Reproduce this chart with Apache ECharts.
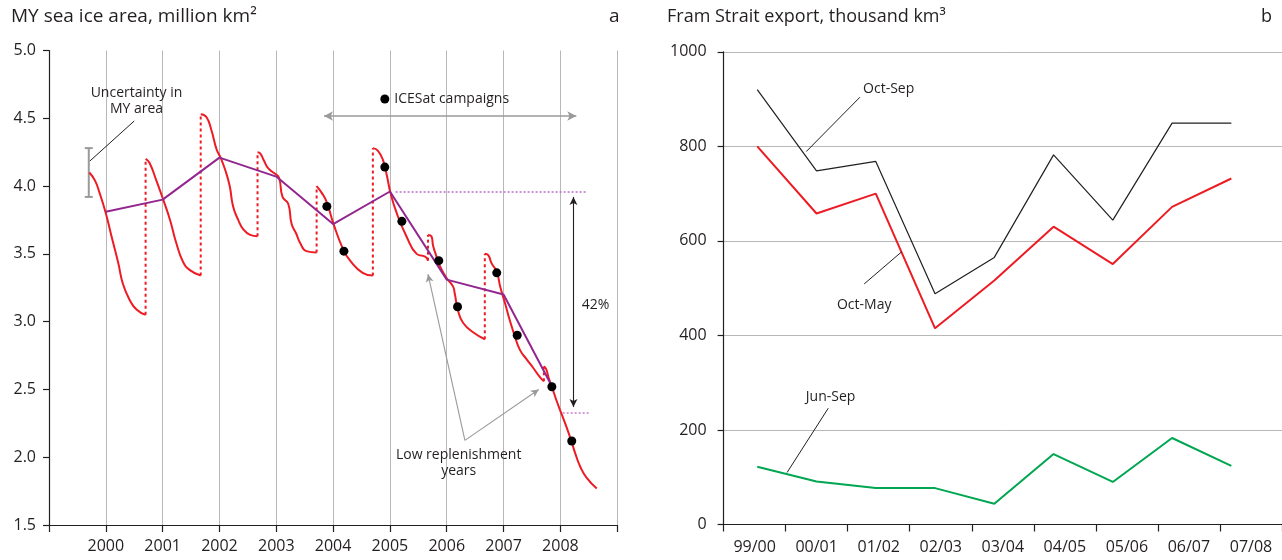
<!DOCTYPE html>
<html>
<head>
<meta charset="utf-8">
<script src="https://cdn.jsdelivr.net/npm/echarts@6/dist/echarts.min.js"></script>
<style>
  html, body { margin: 0; padding: 0; background: #fff; }
  #chart { width: 1282px; height: 560px; }
</style>
</head>
<body>
<div id="chart"></div>
<script>
// ---------- Panel a: multiyear (MY) sea ice area, million km² ----------
const yearLabels = [2000, 2001, 2002, 2003, 2004, 2005, 2006, 2007, 2008];

// Seasonal MY area curves: [decimal year, area]; each season starts at the autumn replenishment
const season1999 = [[1999.71,4.10],[1999.81,4.04],[1999.89,3.95],[2000.00,3.80],[2000.10,3.63],[2000.22,3.43],[2000.30,3.28],[2000.42,3.16],[2000.54,3.09],[2000.70,3.05]];
const season2000 = [[2000.70,4.20],[2000.77,4.17],[2000.89,4.04],[2001.01,3.90],[2001.13,3.75],[2001.24,3.58],[2001.36,3.44],[2001.48,3.38],[2001.67,3.34]];
const season2001 = [[2001.67,4.53],[2001.77,4.51],[2001.86,4.41],[2001.95,4.27],[2002.02,4.21],[2002.10,4.12],[2002.18,4.00],[2002.24,3.85],[2002.33,3.75],[2002.42,3.68],[2002.54,3.64],[2002.67,3.63]];
const season2002 = [[2002.67,4.25],[2002.72,4.24],[2002.78,4.19],[2002.86,4.13],[2002.98,4.09],[2003.05,4.06],[2003.11,3.92],[2003.21,3.87],[2003.27,3.72],[2003.35,3.65],[2003.42,3.58],[2003.53,3.52],[2003.71,3.51]];
const season2003 = [[2003.71,4.00],[2003.80,3.95],[2003.89,3.88],[2004.00,3.73],[2004.18,3.53],[2004.30,3.45],[2004.52,3.36],[2004.70,3.34]];
const season2004 = [[2004.70,4.28],[2004.79,4.26],[2004.88,4.19],[2004.95,4.07],[2005.01,3.95],[2005.12,3.80],[2005.29,3.63],[2005.47,3.50],[2005.62,3.48],[2005.67,3.45]];
const season2005 = [[2005.67,3.64],[2005.73,3.63],[2005.76,3.56],[2005.82,3.48],[2005.88,3.41],[2006.00,3.32],[2006.11,3.26],[2006.14,3.21],[2006.20,3.08],[2006.29,2.99],[2006.47,2.92],[2006.67,2.87]];
const season2006 = [[2006.67,3.50],[2006.73,3.49],[2006.79,3.43],[2006.88,3.37],[2006.94,3.26],[2007.03,3.13],[2007.11,3.01],[2007.20,2.89],[2007.29,2.79],[2007.41,2.72],[2007.52,2.66],[2007.64,2.59],[2007.71,2.56]];
const season2007 = [[2007.71,2.67],[2007.75,2.65],[2007.79,2.59],[2007.85,2.52],[2007.93,2.42],[2008.02,2.32],[2008.11,2.22],[2008.20,2.11],[2008.26,2.03],[2008.35,1.93],[2008.46,1.85],[2008.64,1.77]];
const mySeasons = [season1999, season2000, season2001, season2002, season2003, season2004, season2005, season2006, season2007];

// Annual MY area at the start of each year
const annualArea = [[2000,3.81],[2001,3.90],[2002,4.21],[2003,4.07],[2004,3.72],[2005,3.96],[2006,3.31],[2007,3.20],[2007.83,2.54]];

// ICESat campaign estimates
const icesatPoints = [[2003.89,3.85],[2004.19,3.52],[2004.91,4.14],[2005.21,3.74],[2005.86,3.45],[2006.19,3.11],[2006.88,3.36],[2007.24,2.90],[2007.85,2.52],[2008.20,2.12]];

// Uncertainty bar: [year, low, high]
const uncertaintyBar = [1999.70, 3.92, 4.28];

// Decline from 2005 to 2008
const level2005 = 3.96;
const level2008 = 2.33;

// ---------- Panel b: Fram Strait export, thousand km³ ----------
const exportYears = ['99/00', '00/01', '01/02', '02/03', '03/04', '04/05', '05/06', '06/07', '07/08'];
const octSep = [920, 748, 768, 488, 565, 782, 644, 849, 849];
const octMay = [800, 658, 700, 415, 516, 630, 551, 672, 732];
const junSep = [122, 91, 77, 77, 44, 149, 90, 183, 124];
const meanExport = 700;

const FONT = '"Open Sans", "Noto Sans", sans-serif';
const INK = '#231f20';
const RED = '#ed1c24';
const PURPLE = '#92278f';
const GREEN = '#00a651';
const GRAY = '#9a9a9a';
const GRID = '#b8b8b8';

const txt = (size) => ({ fontFamily: FONT, fontSize: size, color: INK });

// Replenishment jumps join the end of one season to the start of the next
const jumps = [];
for (let i = 0; i < mySeasons.length - 1; i++) {
  const a = mySeasons[i][mySeasons[i].length - 1];
  const b = mySeasons[i + 1][0];
  jumps.push([a, b]);
}

const series = [];

mySeasons.forEach((s) => {
  series.push({
    type: 'line', xAxisIndex: 0, yAxisIndex: 0, data: s,
    smooth: 0.5, showSymbol: false, silent: true,
    lineStyle: { color: RED, width: 2 }, z: 3
  });
});

jumps.forEach((j) => {
  series.push({
    type: 'line', xAxisIndex: 0, yAxisIndex: 0, data: j,
    showSymbol: false, silent: true,
    lineStyle: { color: RED, width: 2, type: [3, 3] }, z: 3
  });
});

// Annual area and annotations of panel a
const arrow = (from, to, color, width, startSym, endSym, size) => ([
  { coord: from, symbol: startSym, symbolSize: size },
  { coord: to, symbol: endSym, symbolSize: size, lineStyle: { color: color, width: width, type: 'solid' } }
]);

series.push({
  type: 'line', xAxisIndex: 0, yAxisIndex: 0, data: annualArea,
  showSymbol: false, silent: true,
  lineStyle: { color: PURPLE, width: 2 }, z: 4,
  markLine: {
    silent: true, animation: false, label: { show: false },
    data: [
      arrow([2003.84, 4.517], [2008.28, 4.517], GRAY, 1.5, 'arrow', 'arrow', [7, 9]),
      arrow([2008.23, 2.37], [2008.23, 3.92], INK, 1.1, 'arrow', 'arrow', [6, 8]),
      arrow([2006.32, 2.124], [2005.67, 3.35], GRAY, 1.1, 'none', 'arrow', [6, 8]),
      arrow([2006.32, 2.124], [2007.62, 2.50], GRAY, 1.1, 'none', 'arrow', [6, 8]),
      arrow([1999.72, 4.185], [2000.50, 4.48], INK, 1, 'none', 'none', 1),
      [
        { coord: [2005.10, level2005], symbol: 'none' },
        { coord: [2008.48, level2005], symbol: 'none', lineStyle: { color: '#b56fc4', width: 1.5, type: [2, 2] } }
      ],
      [
        { coord: [2008.04, level2008], symbol: 'none' },
        { coord: [2008.51, level2008], symbol: 'none', lineStyle: { color: '#c77ad2', width: 1.5, type: [2, 2] } }
      ]
    ]
  }
});

series.push({
  type: 'scatter', xAxisIndex: 0, yAxisIndex: 0, data: icesatPoints,
  symbolSize: 9, itemStyle: { color: '#000', opacity: 1 }, silent: true, z: 5
});

series.push({
  type: 'custom', xAxisIndex: 0, yAxisIndex: 0, data: [uncertaintyBar], silent: true,
  renderItem: (params, api) => {
    const lo = api.coord([api.value(0), api.value(1)]);
    const hi = api.coord([api.value(0), api.value(2)]);
    const w = 4;
    const st = { stroke: GRAY, lineWidth: 2 };
    return {
      type: 'group', children: [
        { type: 'line', shape: { x1: lo[0], y1: lo[1], x2: hi[0], y2: hi[1] }, style: st },
        { type: 'line', shape: { x1: lo[0] - w, y1: lo[1], x2: lo[0] + w, y2: lo[1] }, style: st },
        { type: 'line', shape: { x1: hi[0] - w, y1: hi[1], x2: hi[0] + w, y2: hi[1] }, style: st }
      ]
    };
  }
});

// Text annotations, drawn as centred text at a data position
const annotationsA = [
  { at: [2000.54, 4.625], text: 'Uncertainty in\nMY area' },
  { at: [2006.21, 1.96], text: 'Low replenishment\nyears' },
  { at: [2008.62, 3.123], text: '42%' }
];
const annotationsB = [
  { at: [2.218, 921], text: 'Oct-Sep' },
  { at: [1.805, 464], text: 'Oct-May' },
  { at: [1.238, 270], text: 'Jun-Sep' }
];
const textSeries = (items, xi, yi) => ({
  type: 'custom', xAxisIndex: xi, yAxisIndex: yi, silent: true, z: 6,
  data: items.map((d) => d.at),
  renderItem: (params, api) => {
    const p = api.coord([api.value(0), api.value(1)]);
    return {
      type: 'text', x: p[0], y: p[1],
      style: {
        text: items[params.dataIndex].text, fill: INK,
        font: '14px ' + FONT, align: 'center', verticalAlign: 'middle', lineHeight: 16
      }
    };
  }
});
series.push(textSeries(annotationsA, 0, 0));

series.push({
  type: 'scatter', xAxisIndex: 0, yAxisIndex: 0, symbolSize: 9, silent: true, z: 6,
  itemStyle: { color: '#000', opacity: 1 },
  data: [{ value: [2004.91, 4.642], label: { show: true, position: 'right', distance: 5, formatter: 'ICESat campaigns', fontFamily: FONT, fontSize: 14, color: INK } }]
});

// Panel b lines on a hidden index axis
const indexed = (arr) => arr.map((v, i) => [i, v]);

series.push({
  type: 'line', xAxisIndex: 2, yAxisIndex: 1, data: indexed(octSep),
  showSymbol: false, silent: true, lineStyle: { color: INK, width: 1.2 }, z: 3,
  markLine: {
    silent: true, animation: false, label: { show: false }, symbol: 'none',
    data: [
      [{ yAxis: meanExport, lineStyle: { color: '#333', width: 2, type: [18, 12] } }, { yAxis: meanExport }]
    ]
  }
});
series.push({
  type: 'line', xAxisIndex: 2, yAxisIndex: 1, data: indexed(octMay),
  showSymbol: false, silent: true, lineStyle: { color: RED, width: 2 }, z: 3
});
series.push({
  type: 'line', xAxisIndex: 2, yAxisIndex: 1, data: indexed(junSep),
  showSymbol: false, silent: true, lineStyle: { color: GREEN, width: 2 }, z: 3,
  markLine: {
    silent: true, animation: false, label: { show: false },
    data: [
      arrow([1.733, 904], [0.827, 789], INK, 1, 'none', 'none', 1),
      arrow([1.805, 509], [2.437, 577], INK, 1, 'none', 'none', 1),
      arrow([1.198, 246], [0.503, 110], INK, 1, 'none', 'none', 1)
    ]
  }
});
series.push(textSeries(annotationsB, 2, 1));

const option = {
  animation: false,
  backgroundColor: '#fff',
  title: [
    { text: 'MY sea ice area, million km²', left: 11, top: 7, padding: 0, textStyle: { ...txt(19), fontWeight: 'normal' } },
    { text: 'a', left: 609, top: 7, padding: 0, textStyle: { ...txt(19), fontWeight: 'normal' } },
    { text: 'Fram Strait export, thousand km³', left: 667, top: 8, padding: 0, textStyle: { ...txt(18), fontWeight: 'normal' } },
    { text: 'b', left: 1261, top: 8, padding: 0, textStyle: { ...txt(18), fontWeight: 'normal' } }
  ],
  grid: [
    { left: 49, right: 664.8, top: 50.5, bottom: 35 },
    { left: 723.6, right: -7.4, top: 51.8, bottom: 35.5 }
  ],
  xAxis: [
    {
      type: 'value', gridIndex: 0, min: 1999, max: 2009, interval: 1,
      axisLine: { show: true, onZero: false, lineStyle: { color: INK, width: 1.2 } },
      axisTick: { show: true, length: 7, lineStyle: { color: INK, width: 1.2 } },
      axisLabel: { margin: 13, ...txt(16), formatter: (v) => (yearLabels.indexOf(v) >= 0 ? String(v) : '') },
      splitLine: { show: true, lineStyle: { color: GRID, width: 1 } }
    },
    {
      type: 'category', gridIndex: 1, data: exportYears, boundaryGap: true,
      axisLine: { show: true, onZero: false, lineStyle: { color: INK, width: 1.2 } },
      axisTick: { show: true, length: 7, interval: 0, lineStyle: { color: INK, width: 1.2 } },
      axisLabel: { margin: 15, interval: 0, ...txt(16) },
      splitLine: { show: false }
    },
    {
      type: 'value', gridIndex: 1, min: -0.568, max: 8.855, show: false,
      splitLine: { show: false }
    }
  ],
  yAxis: [
    {
      type: 'value', gridIndex: 0, min: 1.5, max: 5, interval: 0.5,
      axisLine: { show: true, onZero: false, lineStyle: { color: INK, width: 1.2 } },
      axisTick: { show: true, length: 6, lineStyle: { color: INK, width: 1.2 } },
      axisLabel: { margin: 13, ...txt(16), formatter: (v) => v.toFixed(1) },
      splitLine: { show: false }
    },
    {
      type: 'value', gridIndex: 1, min: 0, max: 1000, interval: 200,
      axisLine: { show: true, onZero: false, lineStyle: { color: INK, width: 1.2 } },
      axisTick: { show: true, length: 6, lineStyle: { color: INK, width: 1.2 } },
      axisLabel: { margin: 17, ...txt(16), formatter: (v) => String(v) },
      splitLine: { show: true, lineStyle: { color: GRID, width: 1 } }
    }
  ],
  series: series
};

const chart = echarts.init(document.getElementById('chart'), null, { renderer: 'canvas' });
chart.setOption(option);
</script>
</body>
</html>
